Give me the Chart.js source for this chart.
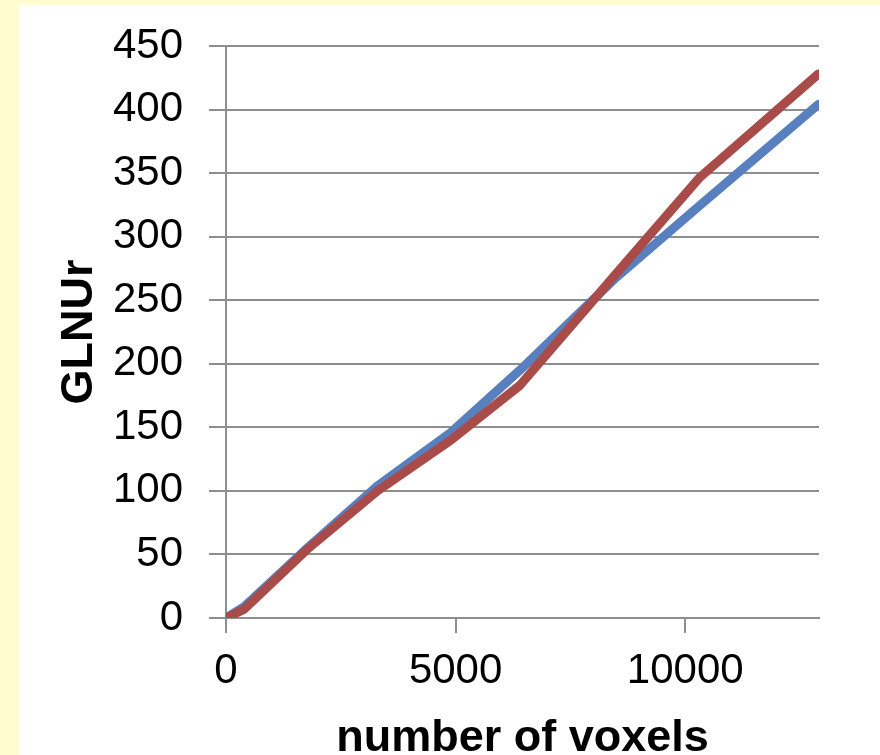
<!DOCTYPE html>
<html>
<head>
<meta charset="utf-8">
<script src="https://cdn.jsdelivr.net/npm/chart.js@4.4.1/dist/chart.umd.min.js"></script>
<style>
  html, body { margin: 0; padding: 0; background: #FFFDD0; }
  canvas { display: block; }
</style>
</head>
<body>
<canvas id="c" width="880" height="755"></canvas>
<script>
// Number of voxels (x) and GLNUr values for the two series
const voxels   = [0, 400, 1800, 3300, 4900, 6400, 8500, 10300, 12900];
const seriesA  = [0, 9, 56, 104, 146, 195, 268, 324, 404];   // blue
const seriesB  = [0, 7, 55, 100, 140, 183, 271, 346, 428];   // red
const xTicks   = [0, 5000, 10000];
const yTicks   = [0, 50, 100, 150, 200, 250, 300, 350, 400, 450];

const toPoints = ys => voxels.map((x, i) => ({ x: x, y: ys[i] }));

const FONT = '"Liberation Sans", Arial, sans-serif';
const GRID = '#8E8E8E';

// Pale yellow frame with a white panel behind the chart
const panelBg = {
  id: 'panelBg',
  beforeDraw(chart) {
    const ctx = chart.ctx;
    ctx.save();
    ctx.fillStyle = '#FFFDD0';
    ctx.fillRect(0, 0, chart.width, chart.height);
    ctx.fillStyle = '#FFFFFF';
    ctx.fillRect(19, 5, chart.width - 19, chart.height - 5);
    ctx.restore();
  }
};

new Chart(document.getElementById('c'), {
  type: 'scatter',
  data: {
    datasets: [
      {
        label: 'red',
        data: toPoints(seriesB),
        showLine: true,
        borderColor: '#A94B48',
        backgroundColor: '#A94B48',
        borderWidth: 9,
        pointRadius: 0,
        borderCapStyle: 'round',
        borderJoinStyle: 'round',
        order: 0
      },
      {
        label: 'blue',
        data: toPoints(seriesA),
        showLine: true,
        borderColor: '#5880BF',
        backgroundColor: '#5880BF',
        borderWidth: 9,
        pointRadius: 0,
        borderCapStyle: 'round',
        borderJoinStyle: 'round',
        order: 1
      }
    ]
  },
  options: {
    responsive: false,
    animation: false,
    devicePixelRatio: 1,
    layout: { padding: { left: 40, top: 46, right: 61, bottom: 0 } },
    plugins: {
      legend: { display: false },
      tooltip: { enabled: false }
    },
    scales: {
      x: {
        type: 'linear',
        min: 0,
        max: 12913,
        afterBuildTicks: s => { s.ticks = xTicks.map(v => ({ value: v })); },
        afterFit: s => { s.height = 755 - 618; s.paddingLeft = 0; s.paddingRight = 0; },
        grid: {
          drawOnChartArea: false,
          drawTicks: true,
          tickLength: 15,
          color: GRID,
          lineWidth: 2
        },
        border: { display: true, color: GRID, width: 2 },
        ticks: {
          color: '#000',
          font: { family: FONT, size: 42 },
          padding: 13,
          maxRotation: 0,
          callback: v => String(v)
        },
        title: {
          display: true,
          text: 'number of voxels',
          color: '#000',
          font: { family: FONT, size: 45, weight: 'bold', lineHeight: 0.75 },
          padding: { top: 0, bottom: 0 }
        }
      },
      y: {
        type: 'linear',
        min: 0,
        max: 450,
        afterBuildTicks: s => { s.ticks = yTicks.map(v => ({ value: v })); },
        afterFit: s => { s.width = 226 - 40; s.paddingTop = 0; s.paddingBottom = 0; },
        grid: {
          drawOnChartArea: true,
          drawTicks: true,
          tickLength: 17,
          color: GRID,
          lineWidth: 2
        },
        border: { display: true, color: GRID, width: 2 },
        ticks: {
          color: '#000',
          font: { family: FONT, size: 42 },
          padding: 26,
          callback: v => String(v)
        },
        title: {
          display: true,
          text: 'GLNUr',
          color: '#000',
          font: { family: FONT, size: 45, weight: 'bold' },
          padding: { top: 13, bottom: 0 }
        }
      }
    }
  },
  plugins: [panelBg]
});
</script>
</body>
</html>
